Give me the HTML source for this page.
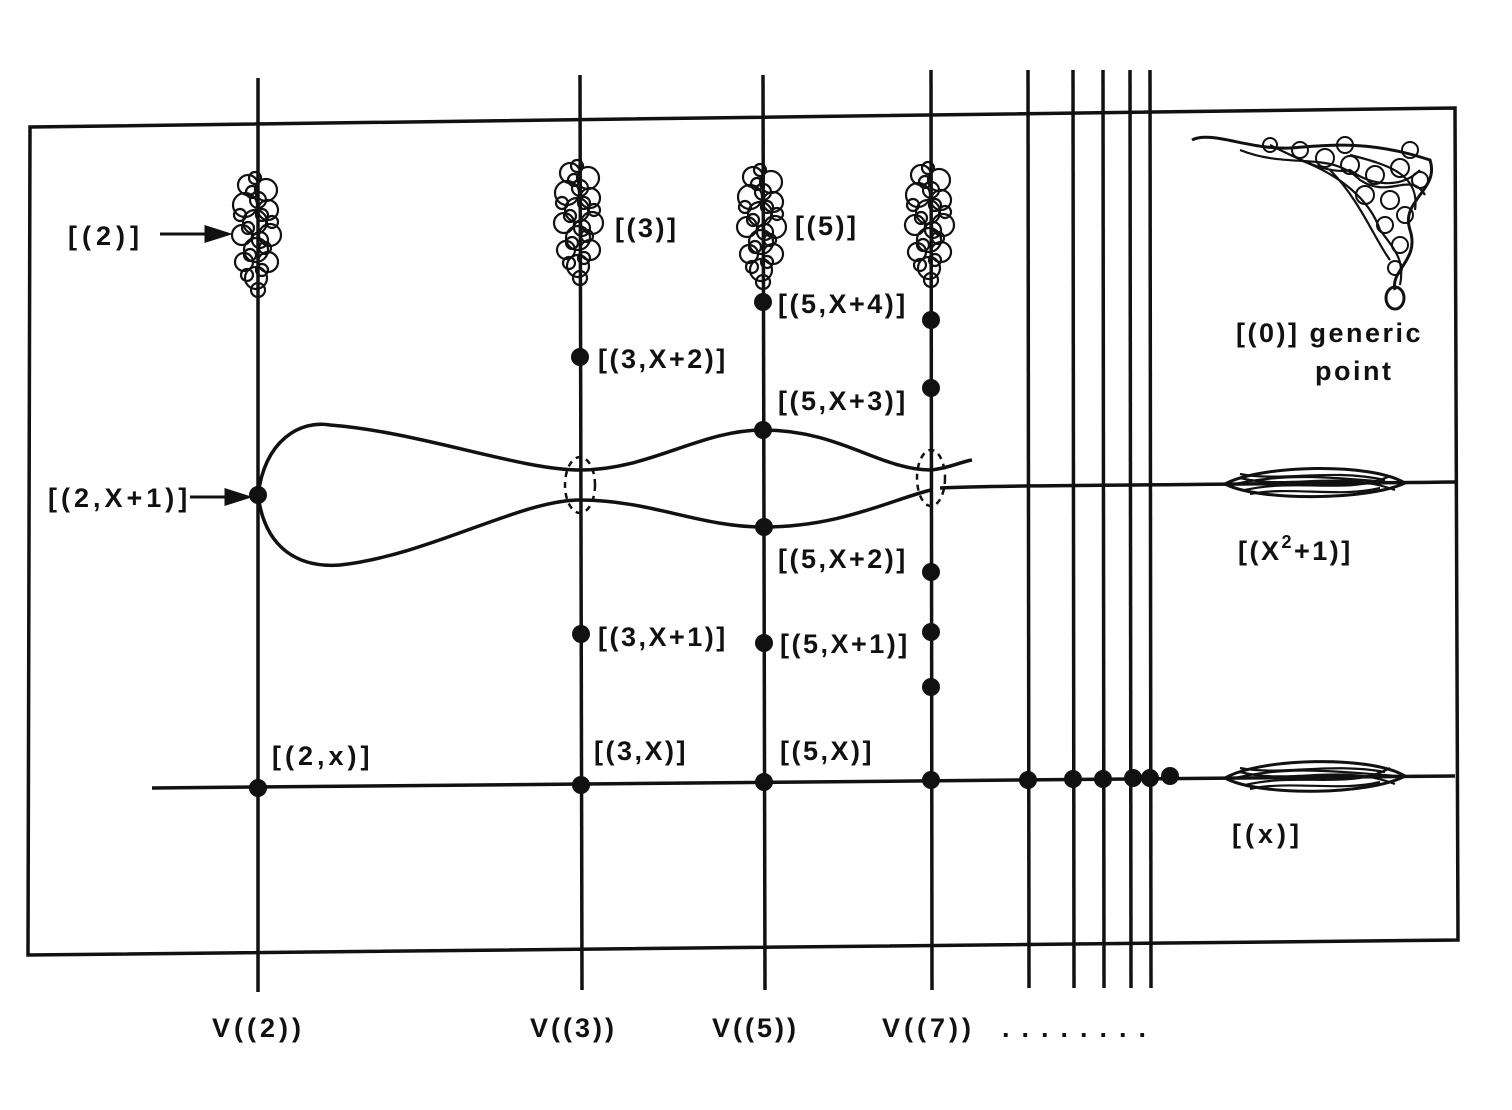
<!DOCTYPE html>
<html><head><meta charset="utf-8"><style>
html,body{margin:0;padding:0;background:#fff}
svg{display:block}
text{font-family:"Liberation Sans",sans-serif;font-weight:bold;font-size:27px;fill:#111;letter-spacing:2.5px}
</style></head><body>
<svg width="1512" height="1110" viewBox="0 0 1512 1110" xmlns="http://www.w3.org/2000/svg">
<g stroke="#111" stroke-width="3.5" fill="none">
<path d="M30 127 L1455 108 L1458 940 L28 955 Z"/>
<line x1="258" y1="78" x2="258" y2="992"/>
<line x1="580" y1="75" x2="582" y2="990"/>
<line x1="763" y1="75" x2="765" y2="990"/>
<line x1="931" y1="70" x2="932" y2="990"/>
<line x1="1028" y1="70" x2="1029" y2="988"/>
<line x1="1073" y1="70" x2="1074" y2="988"/>
<line x1="1103" y1="70" x2="1104" y2="988"/>
<line x1="1130" y1="70" x2="1131" y2="988"/>
<line x1="1150" y1="70" x2="1151" y2="988"/>
<path d="M152 788 L1455 776"/>
<path d="M940 488 C1000 485 1200 485 1455 482"/>
<path d="M258 495 C265 440 300 420 330 425 C420 432 520 470 580 470 C650 470 700 430 763 430 C840 430 880 470 931 470 C950 468 960 462 972 460"/>
<path d="M258 495 C265 550 300 568 340 565 C430 555 520 500 580 500 C650 500 700 527 763 527 C840 527 890 500 931 490"/>
<ellipse cx="580" cy="485" rx="15" ry="28" stroke-dasharray="6 5" stroke-width="2.5"/>
<ellipse cx="931" cy="478" rx="14" ry="28" stroke-dasharray="6 5" stroke-width="2.5"/>
<path d="M1225 484 C1260 465 1370 462 1405 483 C1370 500 1260 502 1225 484 Z" stroke-width="3"/>
<path d="M1235 484 C1290 472 1340 478 1398 483 M1240 478 C1290 490 1340 470 1395 490 M1245 490 C1300 478 1350 495 1390 476 M1240 474 C1280 482 1330 468 1385 480 M1250 494 C1290 486 1340 498 1380 488" stroke-width="2.2"/>
<path d="M1225 778 C1260 758 1370 755 1405 776 C1370 795 1260 797 1225 778 Z" stroke-width="3"/>
<path d="M1235 778 C1290 765 1340 772 1398 776 M1240 772 C1290 785 1340 763 1395 784 M1245 785 C1300 772 1350 790 1390 768 M1240 768 C1280 776 1330 762 1385 772 M1250 789 C1290 780 1340 792 1380 782" stroke-width="2.2"/>
<path d="M1192 140 C1210 130 1250 150 1290 148 C1330 145 1370 140 1430 160 C1440 190 1400 200 1410 230 C1420 260 1390 270 1395 290" stroke-width="3"/>
<ellipse cx="1395" cy="298" rx="9" ry="11" stroke-width="3"/>
<path d="M1240 150 C1290 170 1330 150 1360 180 C1390 200 1410 170 1425 195 M1300 160 C1340 175 1370 200 1380 230 C1395 250 1405 260 1400 285 M1350 155 C1390 165 1420 175 1415 210 M1270 145 C1300 160 1330 175 1350 170 C1370 185 1400 190 1420 170 M1330 170 C1360 200 1375 240 1390 260" stroke-width="2.2"/>
<g stroke-width="2" >
<circle cx="1300" cy="150" r="8"/><circle cx="1325" cy="158" r="9"/><circle cx="1350" cy="165" r="9"/><circle cx="1375" cy="175" r="9"/><circle cx="1400" cy="168" r="9"/><circle cx="1420" cy="180" r="8"/><circle cx="1365" cy="195" r="9"/><circle cx="1390" cy="200" r="9"/><circle cx="1385" cy="225" r="8"/><circle cx="1405" cy="215" r="8"/><circle cx="1400" cy="245" r="8"/><circle cx="1395" cy="268" r="7"/><circle cx="1270" cy="145" r="7"/><circle cx="1345" cy="145" r="8"/><circle cx="1410" cy="150" r="8"/>
</g>
</g>
<g stroke="#111" stroke-width="2.2" fill="none">
<g id="b1">
<circle cx="248" cy="185" r="10"/><circle cx="266" cy="190" r="11"/><circle cx="245" cy="205" r="12"/><circle cx="268" cy="210" r="10"/><circle cx="255" cy="222" r="12"/><circle cx="242" cy="235" r="10"/><circle cx="270" cy="235" r="11"/><circle cx="256" cy="250" r="12"/><circle cx="244" cy="262" r="9"/><circle cx="268" cy="262" r="10"/><circle cx="256" cy="278" r="11"/><circle cx="258" cy="290" r="7"/><circle cx="258" cy="200" r="8"/><circle cx="260" cy="240" r="8"/>
<circle cx="252" cy="192" r="6"/><circle cx="262" cy="215" r="6"/><circle cx="248" cy="228" r="6"/><circle cx="265" cy="248" r="6"/><circle cx="250" cy="255" r="6"/><circle cx="262" cy="270" r="6"/><circle cx="247" cy="275" r="6"/><circle cx="272" cy="222" r="6"/><circle cx="240" cy="215" r="6"/><circle cx="255" cy="178" r="6"/>
</g>
<use href="#b1" transform="translate(322,-12)"/>
<use href="#b1" transform="translate(505,-8)"/>
<use href="#b1" transform="translate(673,-10)"/>
</g>
<g fill="#111">
<circle cx="258" cy="495" r="9"/><circle cx="258" cy="788" r="9"/>
<circle cx="580" cy="357" r="9"/><circle cx="581" cy="634" r="9"/><circle cx="581" cy="785" r="9"/>
<circle cx="763" cy="302" r="9"/><circle cx="763" cy="430" r="9"/><circle cx="764" cy="527" r="9"/><circle cx="764" cy="643" r="9"/><circle cx="764" cy="782" r="9"/>
<circle cx="931" cy="320" r="9"/><circle cx="931" cy="388" r="9"/><circle cx="931" cy="572" r="9"/><circle cx="931" cy="632" r="9"/><circle cx="931" cy="687" r="9"/><circle cx="931" cy="780" r="9"/>
<circle cx="1028" cy="780" r="9"/><circle cx="1073" cy="779" r="9"/><circle cx="1103" cy="779" r="9"/><circle cx="1133" cy="778" r="9"/><circle cx="1150" cy="778" r="9"/><circle cx="1170" cy="776" r="9"/>
</g>
<g stroke="#111" stroke-width="3" fill="#111">
<line x1="160" y1="234" x2="210" y2="234"/><path d="M228 234 L206 227 L206 241 Z"/>
<line x1="190" y1="497" x2="230" y2="497"/><path d="M248 497 L226 490 L226 504 Z"/>
</g>
<text x="68" y="245" style="letter-spacing:5px">[(2)]</text>
<text x="615" y="237">[(3)]</text>
<text x="795" y="235">[(5)]</text>
<text x="778" y="313">[(5,X+4)]</text>
<text x="598" y="368">[(3,X+2)]</text>
<text x="778" y="410">[(5,X+3)]</text>
<text x="48" y="507" style="letter-spacing:4px">[(2,X+1)]</text>
<text x="778" y="568">[(5,X+2)]</text>
<text x="598" y="646">[(3,X+1)]</text>
<text x="780" y="653">[(5,X+1)]</text>
<text x="272" y="765" style="letter-spacing:4px">[(2,x)]</text>
<text x="594" y="760">[(3,X)]</text>
<text x="780" y="760">[(5,X)]</text>
<text x="1236" y="342">[(0)] generic</text>
<text x="1315" y="380">point</text>
<text x="1238" y="560">[(X<tspan dy="-12" font-size="18">2</tspan><tspan dy="12">+1)]</tspan></text>
<text x="1232" y="843" style="letter-spacing:4px">[(x)]</text>
<text x="212" y="1037" style="letter-spacing:4px">V((2))</text>
<text x="530" y="1037" style="letter-spacing:3px">V((3))</text>
<text x="712" y="1037" style="letter-spacing:3px">V((5))</text>
<text x="882" y="1037" style="letter-spacing:4px">V((7))</text>
<text x="1002" y="1037" style="letter-spacing:12px">........</text>
</svg>
</body></html>
